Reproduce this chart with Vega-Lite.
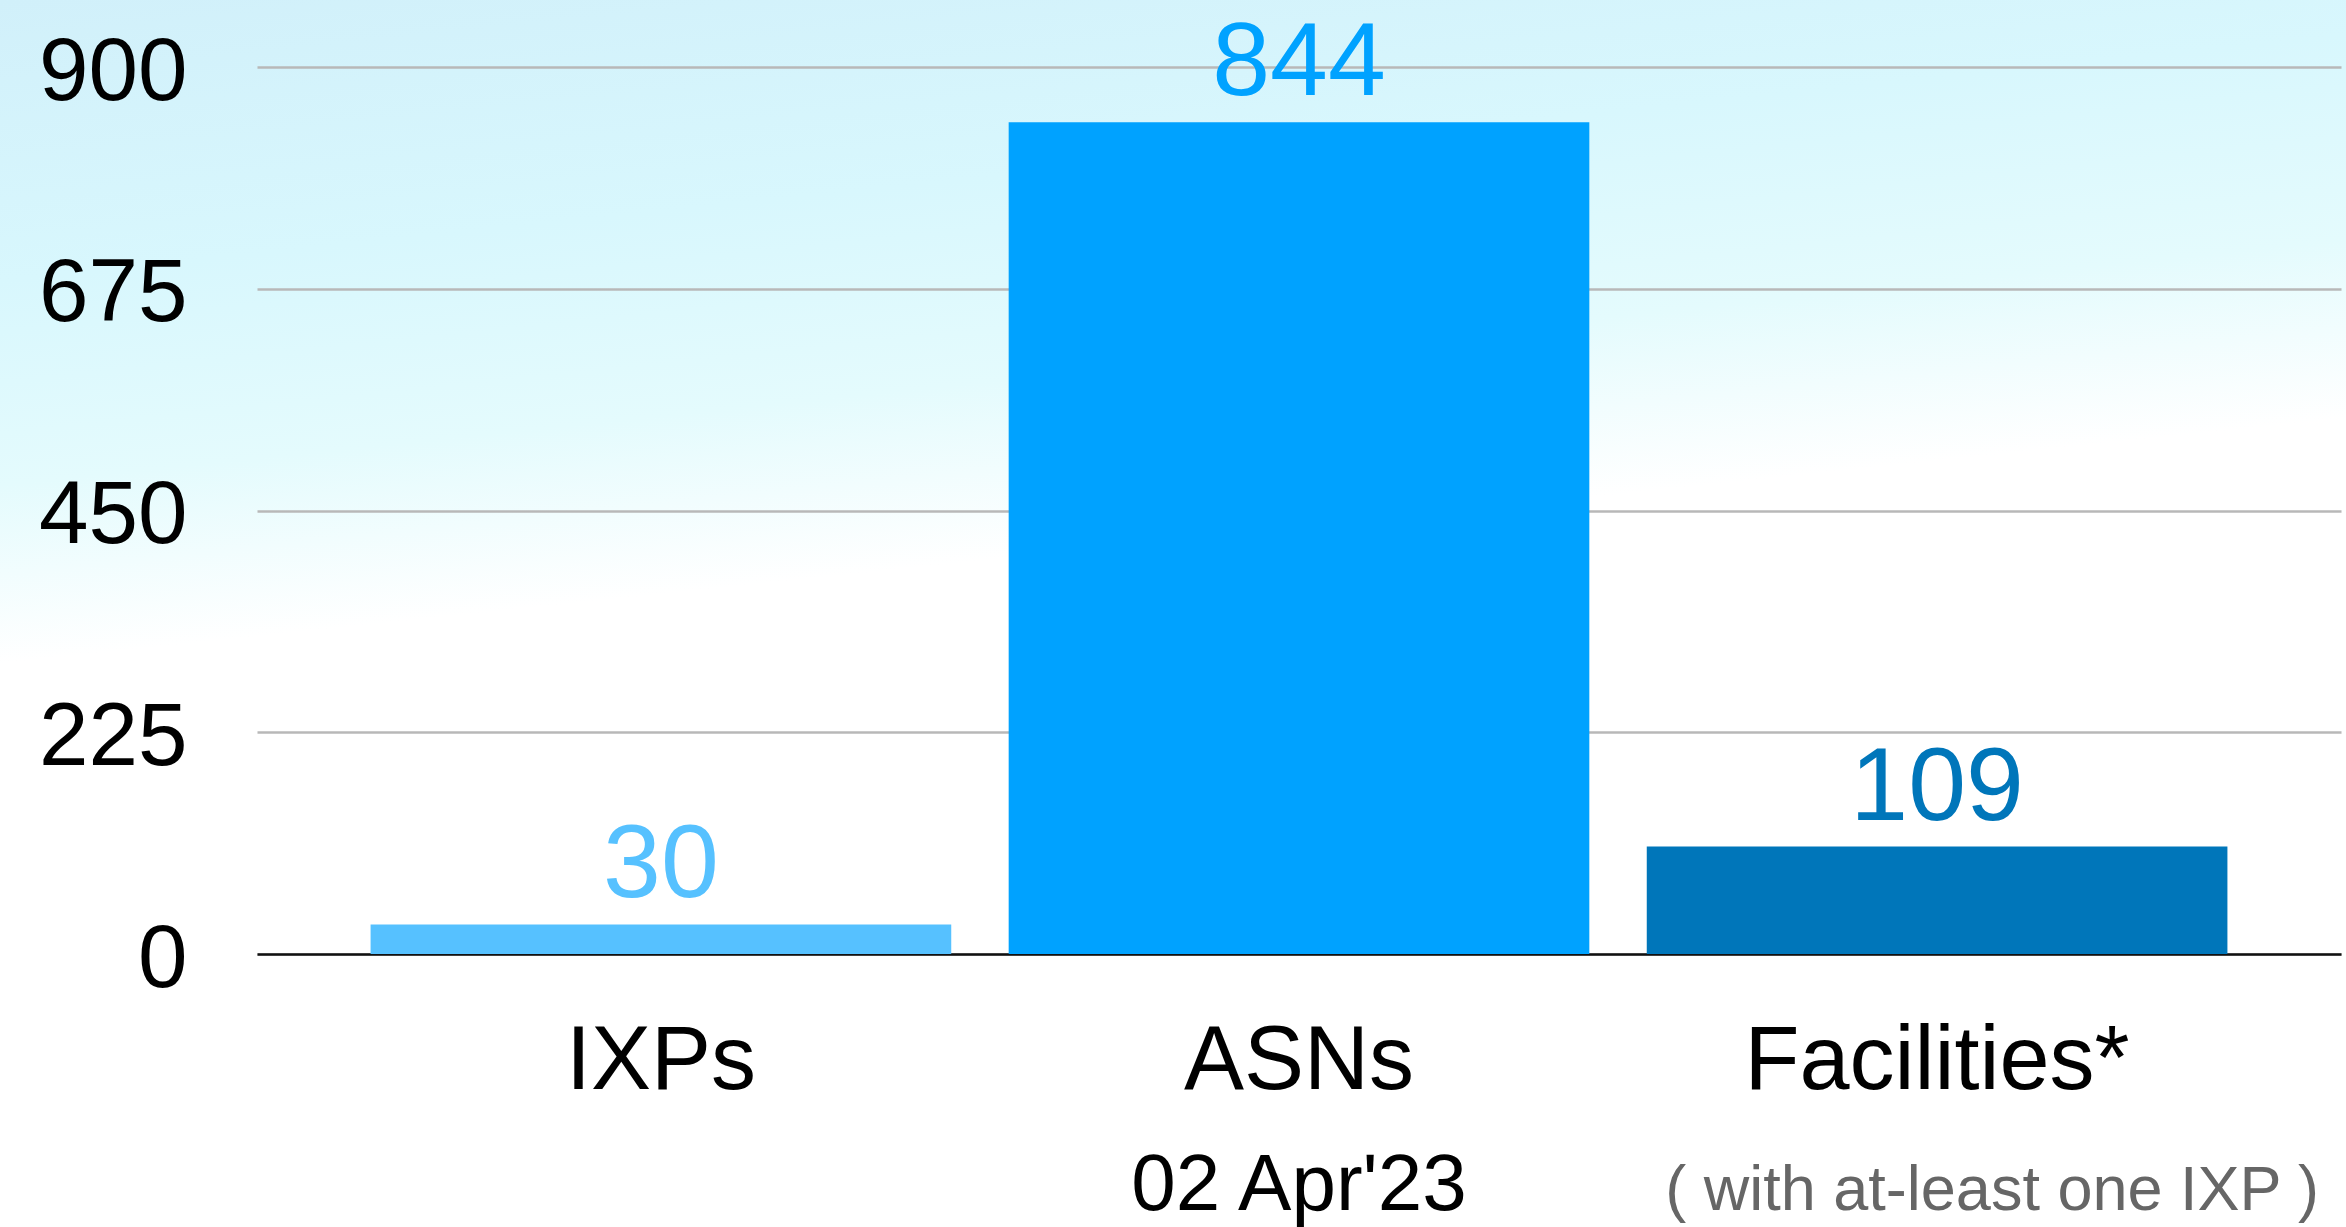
{
  "$schema": "https://vega.github.io/schema/vega-lite/v6.json",
  "width": 2346,
  "height": 1227,
  "padding": 0,
  "autosize": {"type": "none"},
  "background": "#ffffff",
  "config": {
    "font": "Liberation Sans",
    "view": {
      "stroke": null,
      "fill": {
        "gradient": "linear",
        "x1": 0, "y1": 0, "x2": 0.2, "y2": 1,
        "stops": [
          {"offset": 0, "color": "#d1f0fa"},
          {"offset": 0.22, "color": "#d8f7fd"},
          {"offset": 0.38, "color": "#e4fbfd"},
          {"offset": 0.52, "color": "#ffffff"},
          {"offset": 1, "color": "#ffffff"}
        ]
      }
    }
  },
  "data": {
    "values": [
      {"category": "IXPs", "count": 30},
      {"category": "ASNs", "count": 844},
      {"category": "Facilities*", "count": 109}
    ]
  },
  "layer": [
    {
      "mark": {"type": "bar"},
      "encoding": {
        "x": {
          "field": "category", "type": "nominal", "sort": null,
          "scale": {"domain": ["IXPs", "ASNs", "Facilities*"], "range": [257, 2341], "paddingInner": 0.09, "paddingOuter": 0.178},
          "axis": {
            "orient": "bottom", "offset": -273, "title": null,
            "domain": true, "domainColor": "#111111", "domainWidth": 2.5,
            "ticks": false, "tickSize": 0, "grid": false,
            "labelAngle": 0, "labelPadding": 63, "labelFontSize": 90, "labelColor": "#000000",
            "labelBaseline": "top", "labelOverlap": false, "labelLimit": 0
          }
        },
        "y": {
          "field": "count", "type": "quantitative",
          "scale": {"domain": [0, 900], "range": [954, 67], "nice": false, "zero": true},
          "axis": {
            "orient": "left", "offset": -257, "title": null,
            "values": [0, 225, 450, 675, 900],
            "domain": false, "ticks": false, "tickSize": 0,
            "labelPadding": 70, "labelFontSize": 89, "labelColor": "#000000",
            "labelOffset": 5, "labelFlush": false, "labelOverlap": false, "labelLimit": 0,
            "grid": true, "gridColor": "#b8b8b8", "gridWidth": 2.5
          }
        },
        "color": {
          "field": "category", "type": "nominal",
          "scale": {"domain": ["IXPs", "ASNs", "Facilities*"], "range": ["#56C1FF", "#00A2FF", "#0076BA"]},
          "legend": null
        }
      }
    },
    {
      "mark": {"type": "text", "baseline": "alphabetic", "align": "center", "dy": -27, "fontSize": 104},
      "encoding": {
        "x": {
          "field": "category", "type": "nominal", "sort": null,
          "scale": {"domain": ["IXPs", "ASNs", "Facilities*"], "range": [257, 2341], "paddingInner": 0.09, "paddingOuter": 0.178},
          "axis": {
            "orient": "bottom", "offset": -273, "title": null,
            "domain": false, "ticks": false, "tickSize": 0, "grid": false,
            "labelAngle": 0, "labelPadding": 255, "labelBaseline": "alphabetic", "labelOverlap": false, "labelLimit": 0,
            "labelExpr": "datum.value == 'ASNs' ? \"02 Apr'23\" : (datum.value == 'Facilities*' ? '( with at-least one IXP )' : '')",
            "labelFontSize": {"condition": {"test": "datum.value == 'ASNs'", "value": 80}, "value": 63},
            "labelColor": {"condition": {"test": "datum.value == 'ASNs'", "value": "#000000"}, "value": "#666666"},
            "labelOffset": {"condition": {"test": "datum.value == 'Facilities*'", "value": 55}, "value": 0}
          }
        },
        "y": {
          "field": "count", "type": "quantitative",
          "scale": {"domain": [0, 900], "range": [954, 67], "nice": false, "zero": true}
        },
        "text": {"field": "count", "type": "quantitative"},
        "color": {
          "field": "category", "type": "nominal",
          "scale": {"domain": ["IXPs", "ASNs", "Facilities*"], "range": ["#56C1FF", "#00A2FF", "#0076BA"]},
          "legend": null
        }
      }
    }
  ],
  "resolve": {"axis": {"x": "independent"}}
}
